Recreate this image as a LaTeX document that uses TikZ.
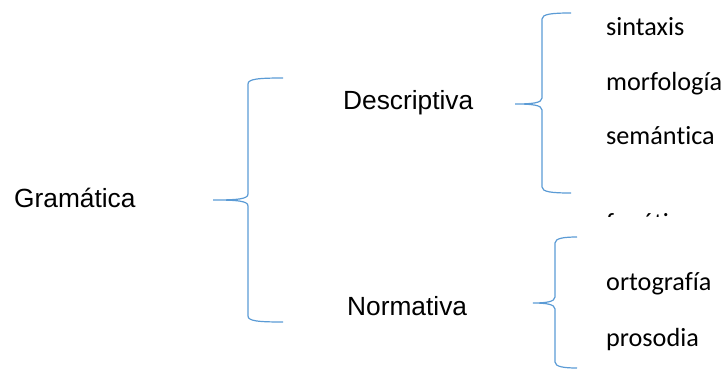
\documentclass[tikz,border=0pt]{standalone}
\usepackage{fontspec}
\newfontfamily\arialf{Liberation Sans}
\newfontfamily\calf[Ligatures={NoCommon}]{Carlito}
\definecolor{wordblue}{HTML}{5B9BD5}
\tikzset{
  brace/.style={draw=wordblue, line width=1.2pt},
  arialtxt/.style={font=\arialf\fontsize{26.3}{30}\selectfont, inner sep=0pt, anchor=base west},
  caltxt/.style={font=\calf\fontsize{26.2}{30}\selectfont, inner sep=0pt, anchor=base west}
}
% #1 = tip x, #2 = tip y, #3 = vertical x, #4 = top y, #5 = bottom y, #6 = end x
\newcommand\wordbrace[6]{%
  \draw[brace] (#6,#4) .. controls (#3+10,#4) and (#3,#4+1) .. (#3,#4+6)
    -- (#3,#2-6) .. controls (#3,#2-1) and (#3-10,#2) .. (#1,#2)
    .. controls (#3-10,#2) and (#3,#2+1) .. (#3,#2+6)
    -- (#3,#5-6) .. controls (#3,#5-1) and (#3+10,#5) .. (#6,#5);
  \coordinate (tip-#1) at (#1,#2);
}
\begin{document}
\begin{tikzpicture}[x=1pt,y=-1pt]
\useasboundingbox (0,0) rectangle (726,370);
% braces
\wordbrace{213}{200}{248}{78}{322}{283}
\wordbrace{515}{104}{542}{13}{193}{571}
\wordbrace{533}{303}{555}{237}{368}{577}
% texts
\node[arialtxt] (gram) at (14,207.5) {Gramática};
\node[arialtxt] (desc) at (343,109) {Descriptiva};
\node[arialtxt] (norm) at (347,315) {Normativa};
\node[caltxt] (sint) at (606,35.5) {sintaxis};
\node[caltxt] (morf) at (606,90) {morfología};
\node[caltxt] (sema) at (606,144) {semántica};
\node[caltxt] (orto) at (606,290) {ortografía};
\node[caltxt] (pros) at (606,346.5) {prosodia};
\begin{scope}
  \clip (590,200) rectangle (720,216.5);
  \node[caltxt] (fone) at (606,231) {fonética};
\end{scope}
\end{tikzpicture}
\end{document}
